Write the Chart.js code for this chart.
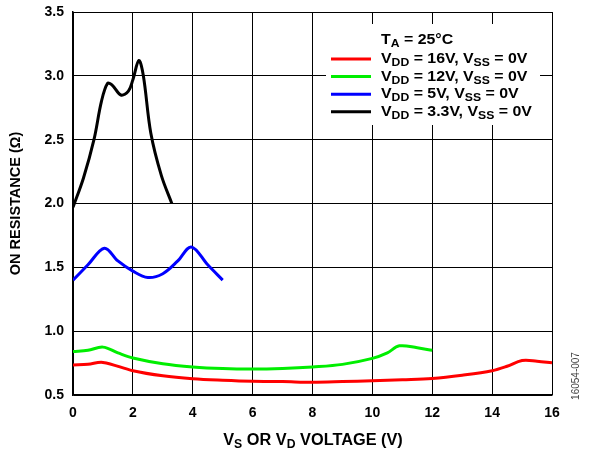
<!DOCTYPE html>
<html>
<head>
<meta charset="utf-8">
<script src="https://cdn.jsdelivr.net/npm/chart.js@4/dist/chart.umd.min.js"></script>
<style>
  html, body { margin: 0; padding: 0; background: #fff; }
  canvas { display: block; }
</style>
</head>
<body>
<canvas id="grafik" width="589" height="455"></canvas>
<script>
// data (V vs Ohm)
const v16 = [0, 0.5, 1, 2, 3, 4, 5, 6, 7, 8, 9, 10, 11, 12, 13, 14, 14.5, 15, 15.5, 16];
const r16 = [0.735, 0.74, 0.755, 0.69, 0.65, 0.627, 0.615, 0.607, 0.605, 0.6, 0.605, 0.612, 0.62, 0.63, 0.655, 0.69, 0.725, 0.77, 0.765, 0.752];

const v12 = [0, 0.5, 1, 1.5, 2, 3, 4, 5, 6, 7, 8, 9, 10, 10.5, 10.9, 11.5, 12];
const r12 = [0.84, 0.85, 0.875, 0.83, 0.79, 0.745, 0.72, 0.707, 0.703, 0.708, 0.72, 0.74, 0.787, 0.83, 0.885, 0.87, 0.85];

const v5 = [0, 0.5, 1.05, 1.5, 2, 2.5, 3, 3.5, 3.95, 4.5, 5];
const r5 = [1.40, 1.52, 1.65, 1.55, 1.47, 1.42, 1.45, 1.55, 1.66, 1.52, 1.40];

const v33 = [0, 0.35, 0.7, 0.95, 1.15, 1.3, 1.6, 1.85, 2.0, 2.2, 2.35, 2.6, 2.95, 3.3];
const r33 = [1.97, 2.2, 2.5, 2.8, 2.94, 2.93, 2.85, 2.88, 2.97, 3.12, 3.0, 2.55, 2.22, 2.0];

const xTicks = [0, 2, 4, 6, 8, 10, 12, 14, 16];
const yTicks = [0.5, 1.0, 1.5, 2.0, 2.5, 3.0, 3.5];

const FONT = '"Liberation Sans", Arial, sans-serif';

function gabung(xs, ys) {
    return xs.map((x, i) => ({ x: x, y: ys[i] }));
}

// tulis teks dengan subscript: parts = [[teks, sub], ...]
// sx = regangan horizontal supaya lebarnya mirip gambar asli
function tulisRich(ctx, parts, x, y, size, sub, sx) {
    ctx.save();
    ctx.translate(x, y);
    ctx.scale(sx, 1);
    let cx = 0;
    parts.forEach(p => {
        ctx.font = "bold " + (p[1] ? sub : size) + "px " + FONT;
        ctx.fillText(p[0], cx, p[1] ? 4 : 0);
        cx += ctx.measureText(p[0]).width;
    });
    ctx.restore();
    return cx * sx;
}

function lebarRich(ctx, parts, size, sub, sx) {
    let w = 0;
    parts.forEach(p => {
        ctx.font = "bold " + (p[1] ? sub : size) + "px " + FONT;
        w += ctx.measureText(p[0]).width;
    });
    return w * sx;
}

const legendItems = [
    { warna: "#ff0000", teks: [["V"], ["DD", 1], [" = 16V, V"], ["SS", 1], [" = 0V"]] },
    { warna: "#00ee00", teks: [["V"], ["DD", 1], [" = 12V, V"], ["SS", 1], [" = 0V"]] },
    { warna: "#0000ff", teks: [["V"], ["DD", 1], [" = 5V, V"], ["SS", 1], [" = 0V"]] },
    { warna: "#000000", teks: [["V"], ["DD", 1], [" = 3.3V, V"], ["SS", 1], [" = 0V"]] }
];

const pluginTeks = {
    id: "teksTambahan",
    afterDraw(chart) {
        const ctx = chart.ctx;
        const area = chart.chartArea;
        ctx.save();

        // kotak legend putih
        ctx.fillStyle = "#fff";
        ctx.fillRect(326, 24, 214, 101);

        ctx.textBaseline = "middle";
        ctx.textAlign = "left";
        ctx.fillStyle = "#000";
        tulisRich(ctx, [["T"], ["A", 1], [" = 25°C"]], 381, 40, 15, 11.5, 1.06);

        legendItems.forEach((item, i) => {
            const y = 59 + i * 17.6;
            ctx.strokeStyle = item.warna;
            ctx.lineWidth = 3;
            ctx.beginPath();
            ctx.moveTo(331, y);
            ctx.lineTo(371, y);
            ctx.stroke();
            ctx.fillStyle = "#000";
            tulisRich(ctx, item.teks, 381, y, 15, 11.5, 1.06);
        });

        // judul sumbu x
        const judulX = [["V"], ["S", 1], [" OR V"], ["D", 1], [" VOLTAGE (V)"]];
        const w = lebarRich(ctx, judulX, 16, 12, 1.02);
        tulisRich(ctx, judulX, 313 - w / 2, 441, 16, 12, 1.02);

        // judul sumbu y
        ctx.translate(16, (area.top + area.bottom) / 2);
        ctx.rotate(-Math.PI / 2);
        ctx.textAlign = "center";
        ctx.font = "bold 14.5px " + FONT;
        ctx.fillText("ON RESISTANCE (Ω)", 0, 0);
        ctx.restore();

        // kode gambar
        ctx.save();
        ctx.translate(576, 376);
        ctx.rotate(-Math.PI / 2);
        ctx.textAlign = "center";
        ctx.textBaseline = "middle";
        ctx.fillStyle = "#444";
        ctx.font = "10px " + FONT;
        ctx.fillText("16054-007", 0, 0);
        ctx.restore();
    }
};

function seri(label, xs, ys, warna) {
    return {
        label: label,
        data: gabung(xs, ys),
        borderColor: warna,
        borderWidth: 3,
        pointRadius: 0,
        tension: 0.35,
        fill: false
    };
}

new Chart(document.getElementById("grafik"), {
    type: "line",
    data: {
        datasets: [
            seri("VDD = 16V, VSS = 0V", v16, r16, "#ff0000"),
            seri("VDD = 12V, VSS = 0V", v12, r12, "#00ee00"),
            seri("VDD = 5V, VSS = 0V", v5, r5, "#0000ff"),
            seri("VDD = 3.3V, VSS = 0V", v33, r33, "#000000")
        ]
    },
    options: {
        responsive: false,
        animation: false,
        layout: { padding: { top: 12, right: 37, left: 0, bottom: 0 } },
        plugins: {
            legend: { display: false },
            tooltip: { enabled: false }
        },
        scales: {
            x: {
                type: "linear",
                min: 0,
                max: 16,
                afterBuildTicks: axis => { axis.ticks = xTicks.map(v => ({ value: v })); },
                afterFit: axis => { axis.height = 60; axis.paddingLeft = 0; axis.paddingRight = 0; },
                grid: { color: "#000", lineWidth: 1, drawTicks: false },
                border: { color: "#000", width: 1.5 },
                ticks: {
                    color: "#000",
                    padding: 10,
                    font: { family: FONT, size: 14, weight: "bold" },
                    callback: v => v
                }
            },
            y: {
                type: "linear",
                min: 0.5,
                max: 3.5,
                afterBuildTicks: axis => { axis.ticks = yTicks.map(v => ({ value: v })); },
                afterFit: axis => { axis.width = 73; axis.paddingTop = 0; axis.paddingBottom = 0; },
                grid: { color: "#000", lineWidth: 1, drawTicks: false },
                border: { color: "#000", width: 1.5 },
                ticks: {
                    color: "#000",
                    padding: 9,
                    font: { family: FONT, size: 14, weight: "bold" },
                    callback: v => v.toFixed(1)
                }
            }
        }
    },
    plugins: [pluginTeks]
});
</script>
</body>
</html>
